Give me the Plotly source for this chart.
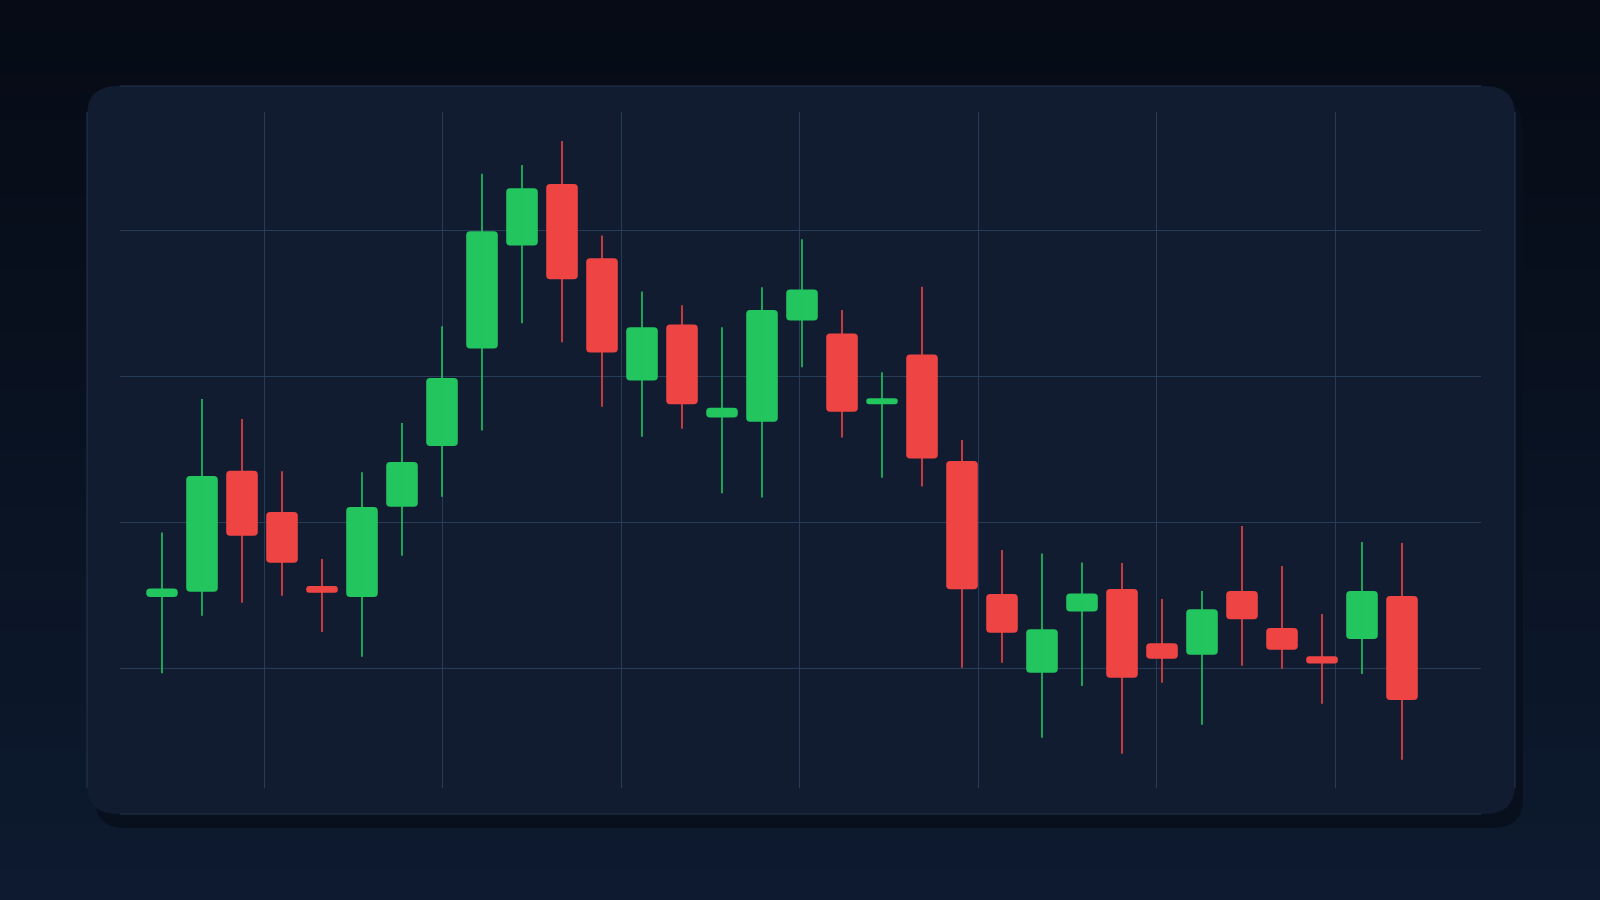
import plotly.graph_objects as go

# Candle data, one entry per session
sessions = list(range(32))
opens = [102.45, 102.63, 106.77, 105.36, 102.82, 102.45, 105.54, 107.62, 110.96, 114.49,
         116.60, 114.06, 109.87, 111.79, 108.60, 108.45, 111.92, 111.48, 109.05, 110.76,
         107.11, 102.55, 99.85, 101.95, 102.72, 100.86, 100.47, 102.65, 101.38, 100.42,
         101.01, 102.48]
highs = [104.66, 109.23, 108.55, 106.76, 103.75, 106.72, 108.41, 111.73, 116.95, 117.25,
         118.08, 114.84, 112.92, 112.45, 111.69, 113.06, 114.71, 112.28, 110.15, 113.08,
         107.83, 104.06, 103.94, 103.63, 103.61, 102.38, 102.65, 104.88, 103.51, 101.86,
         104.33, 104.30]
lows = [99.83, 101.80, 102.25, 102.49, 101.25, 100.40, 103.86, 105.88, 108.15, 111.83,
        111.18, 108.97, 107.94, 108.21, 106.00, 105.86, 110.32, 107.91, 106.53, 106.23,
        100.02, 100.19, 97.62, 99.40, 97.07, 99.51, 98.07, 100.09, 99.99, 98.79,
        99.81, 96.87]
closes = [102.74, 106.59, 104.55, 103.62, 102.59, 105.53, 107.07, 109.95, 114.98, 116.46,
          113.34, 110.83, 111.69, 109.05, 108.93, 112.28, 112.99, 108.80, 109.26, 107.19,
          102.71, 101.22, 101.34, 102.57, 99.68, 100.33, 102.03, 101.68, 100.64, 100.17,
          102.65, 98.92]

UP = '#22c55e'
DOWN = '#ef4444'

W, H = 1600, 900
M_L, M_R, M_T, M_B = 120, 119, 112, 112
PW, PH = W - M_L - M_R, H - M_T - M_B


def px_x(p):
    # pixel -> paper x
    return (p - M_L) / PW


def px_y(p):
    # pixel -> paper y
    return (H - M_B - p) / PH


def hex_mix(a, b, t):
    a = [int(a[i:i + 2], 16) for i in (1, 3, 5)]
    b = [int(b[i:i + 2], 16) for i in (1, 3, 5)]
    return '#' + ''.join('{:02x}'.format(round(a[i] + (b[i] - a[i]) * t)) for i in range(3))


def rounded_rect(x0, y0, x1, y1, r):
    # rounded rectangle path in paper coords, from pixel box
    rx, ry = r / PW, r / PH
    X0, X1 = px_x(x0), px_x(x1)
    Y0, Y1 = px_y(y0), px_y(y1)  # Y0 top, Y1 bottom
    return (f'M {X0 + rx},{Y0} L {X1 - rx},{Y0} Q {X1},{Y0} {X1},{Y0 - ry} '
            f'L {X1},{Y1 + ry} Q {X1},{Y1} {X1 - rx},{Y1} '
            f'L {X0 + rx},{Y1} Q {X0},{Y1} {X0},{Y1 + ry} '
            f'L {X0},{Y0 - ry} Q {X0},{Y0} {X0 + rx},{Y0} Z')


def background_shapes():
    shapes = []
    # Vertical gradient for the page
    n = 60
    for i in range(n):
        shapes.append(dict(
            type='rect', xref='paper', yref='paper', layer='below',
            x0=px_x(0), x1=px_x(W), y0=px_y(H * i / n), y1=px_y(H * (i + 1) / n + 1),
            fillcolor=hex_mix('#060b15', '#0d1a2f', i / (n - 1)), line_width=0))

    # Card shadow, card, and the card's edge lines
    shapes.append(dict(type='path', xref='paper', yref='paper', layer='below',
                       path=rounded_rect(95, 98, 1523, 828, 30),
                       fillcolor='#08101d', line_width=0))
    shapes.append(dict(type='path', xref='paper', yref='paper', layer='below',
                       path=rounded_rect(87, 86, 1515, 814, 30),
                       fillcolor='#111c31', line_width=0))
    edge = dict(color='#25364f', width=1)
    shapes.append(dict(type='line', xref='paper', yref='paper', layer='below',
                       x0=0, x1=1, y0=px_y(86), y1=px_y(86), line=edge))
    shapes.append(dict(type='line', xref='paper', yref='paper', layer='below',
                       x0=0, x1=1, y0=px_y(814), y1=px_y(814), line=edge))
    shapes.append(dict(type='line', xref='paper', yref='paper', layer='below',
                       x0=px_x(87), x1=px_x(87), y0=0, y1=1, line=edge))
    shapes.append(dict(type='line', xref='paper', yref='paper', layer='below',
                       x0=px_x(1515), x1=px_x(1515), y0=0, y1=1, line=edge))
    return shapes


def main():
    colors = [UP if c >= o else DOWN for o, c in zip(opens, closes)]

    fig = go.Figure()

    # Wicks, split by colour
    for col in (UP, DOWN):
        wx, wy = [], []
        for s, h, l, c in zip(sessions, highs, lows, colors):
            if c == col:
                wx += [s, s, None]
                wy += [l, h, None]
        fig.add_trace(go.Scatter(x=wx, y=wy, mode='lines', hoverinfo='skip',
                                 line=dict(color=col, width=1.6), showlegend=False))

    # Bodies as rounded bars
    fig.add_trace(go.Bar(
        x=sessions,
        y=[abs(c - o) for o, c in zip(opens, closes)],
        base=[min(o, c) for o, c in zip(opens, closes)],
        width=0.79,
        marker=dict(color=colors, line_width=0, cornerradius=4),
        showlegend=False,
    ))

    fig.update_layout(
        width=W, height=H,
        margin=dict(l=M_L, r=M_R, t=M_T, b=M_B),
        paper_bgcolor='#0a1322',
        plot_bgcolor='rgba(0,0,0,0)',
        shapes=background_shapes(),
        barmode='overlay',
        showlegend=False,
    )
    grid = dict(showgrid=True, gridcolor='#283c58', gridwidth=1, zeroline=False,
                showline=False, showticklabels=False, ticks='')
    fig.update_xaxes(range=[-1.05, 32.975], tick0=2.5575, dtick=4.4625, **grid)
    fig.update_yaxes(range=[95.9, 119.07], tick0=100, dtick=5, **grid)

    fig.write_html("out.html", config={'displayModeBar': False},
                   post_script="document.body.style.margin='0';document.body.style.overflow='hidden';")


if __name__ == '__main__':
    main()
